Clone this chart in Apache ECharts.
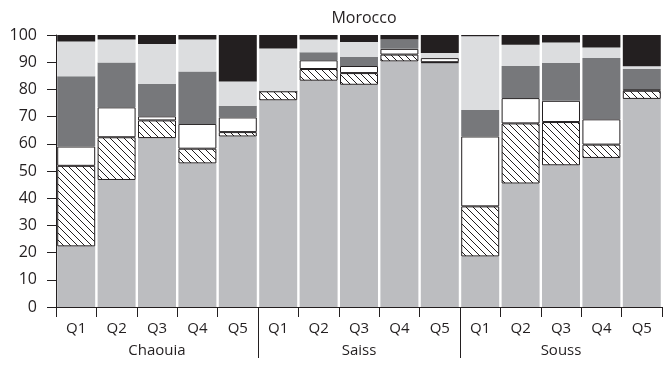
<!DOCTYPE html>
<html>
<head>
<meta charset="utf-8">
<script src="https://cdn.jsdelivr.net/npm/echarts@6/dist/echarts.min.js"></script>
<style>
  html, body { margin: 0; padding: 0; background: #fff; }
  #chart { width: 667px; height: 370px; }
</style>
</head>
<body>
<div id="chart"></div>
<script>
// Regions and income quintiles along the horizontal axis
const regions = ['Chaouia', 'Saiss', 'Souss'];
const quintiles = ['Q1', 'Q2', 'Q3', 'Q4', 'Q5'];
const yTicks = { min: 0, max: 100, step: 10 };

// Shares (%) of each stacked component, per region × quintile
const seg1 = [22.3, 46.7, 62.1, 52.8, 62.7, 76.0, 83.2, 81.7, 90.3, 89.7, 18.6, 45.4, 52.1, 54.8, 76.5];
const seg2 = [29.6, 15.7, 6.5, 5.4, 1.6, 3.3, 4.3, 4.3, 2.5, 0.3, 18.4, 22.1, 15.9, 4.9, 3.0];
const seg3 = [7.1, 11.0, 1.5, 9.1, 5.4, 0, 3.2, 2.6, 2.1, 1.5, 25.7, 9.3, 7.8, 9.3, 0.6];
const seg4 = [25.8, 16.5, 11.9, 19.3, 4.3, 0, 3.0, 3.3, 3.4, 0, 9.7, 11.8, 13.9, 22.5, 7.4];
const seg5 = [12.8, 8.4, 14.7, 11.7, 8.9, 15.7, 4.6, 5.5, 0, 1.9, 27.1, 7.8, 7.5, 3.9, 1.0];
const seg6 = [2.4, 1.7, 3.3, 1.7, 17.1, 5.0, 1.7, 2.6, 1.7, 6.6, 0.5, 3.6, 2.8, 4.6, 11.5];

const categories = [];
regions.forEach(r => quintiles.forEach(q => categories.push(r + '|' + q)));

// Diagonal hatch tile
function hatchPattern() {
  const s = 7;
  const c = document.createElement('canvas');
  c.width = s; c.height = s;
  const g = c.getContext('2d');
  g.fillStyle = '#fff';
  g.fillRect(0, 0, s, s);
  g.strokeStyle = '#231f20';
  g.lineWidth = 1;
  g.beginPath();
  g.moveTo(-1, -1); g.lineTo(s + 1, s + 1);
  g.moveTo(-1, s - 1); g.lineTo(1, s + 1);
  g.moveTo(s - 1, -1); g.lineTo(s + 1, 1);
  g.stroke();
  return { image: c, repeat: 'repeat' };
}

const font = '"Open Sans", "Noto Sans", sans-serif';
const ink = '#231f20';

function layer(name, data, color, bordered) {
  return {
    name: name,
    type: 'bar',
    stack: 'total',
    data: data,
    barCategoryGap: '6%',
    silent: true,
    itemStyle: bordered
      ? { color: color, borderColor: ink, borderWidth: 1 }
      : { color: color, borderWidth: 0 }
  };
}

const chart = echarts.init(document.getElementById('chart'), null, { renderer: 'canvas' });

chart.setOption({
  animation: false,
  backgroundColor: '#fff',
  textStyle: { fontFamily: font, color: ink },
  title: {
    text: 'Morocco',
    left: 359,
    textAlign: 'center',
    top: 5,
    textStyle: { fontFamily: font, fontSize: 16, fontWeight: 'normal', color: ink }
  },
  grid: [
    { left: 56, right: 5, top: 35, bottom: 63 },
    { left: 56, right: 5, top: 307, height: 51 }
  ],
  xAxis: [
    {
      type: 'category',
      gridIndex: 0,
      data: categories,
      axisLine: { lineStyle: { color: ink, width: 1 } },
      axisTick: { show: true, length: 10, lineStyle: { color: ink } },
      axisLabel: {
        margin: 14, fontSize: 15, color: ink, fontFamily: font,
        formatter: v => v.split('|')[1]
      },
      splitLine: { show: false }
    },
    {
      type: 'category',
      gridIndex: 0,
      position: 'bottom',
      data: regions,
      axisLine: { show: false },
      axisTick: { show: false },
      axisLabel: { margin: 36, fontSize: 15, color: ink, fontFamily: font },
      splitLine: { show: false }
    },
    {
      type: 'category',
      gridIndex: 1,
      data: regions,
      axisLine: { show: false },
      axisTick: { show: false },
      axisLabel: { show: false },
      splitLine: { show: true, showMinLine: false, showMaxLine: false, lineStyle: { color: ink, width: 1 } }
    }
  ],
  yAxis: [
    {
      type: 'value',
      gridIndex: 0,
      min: yTicks.min,
      max: yTicks.max,
      interval: yTicks.step,
      axisLine: { show: true, lineStyle: { color: ink, width: 1 } },
      axisTick: { show: true, length: 9, lineStyle: { color: ink } },
      axisLabel: { margin: 19, fontSize: 16, color: ink, fontFamily: font },
      splitLine: { show: false }
    },
    {
      type: 'value',
      gridIndex: 1,
      show: false
    }
  ],
  series: [
    layer('s1', seg1, '#bcbdc0', false),
    layer('s2', seg2, hatchPattern(), true),
    layer('s3', seg3, '#ffffff', true),
    layer('s4', seg4, '#77787b', false),
    layer('s5', seg5, '#dcdddf', false),
    layer('s6', seg6, '#231f20', false)
  ]
});
</script>
</body>
</html>
